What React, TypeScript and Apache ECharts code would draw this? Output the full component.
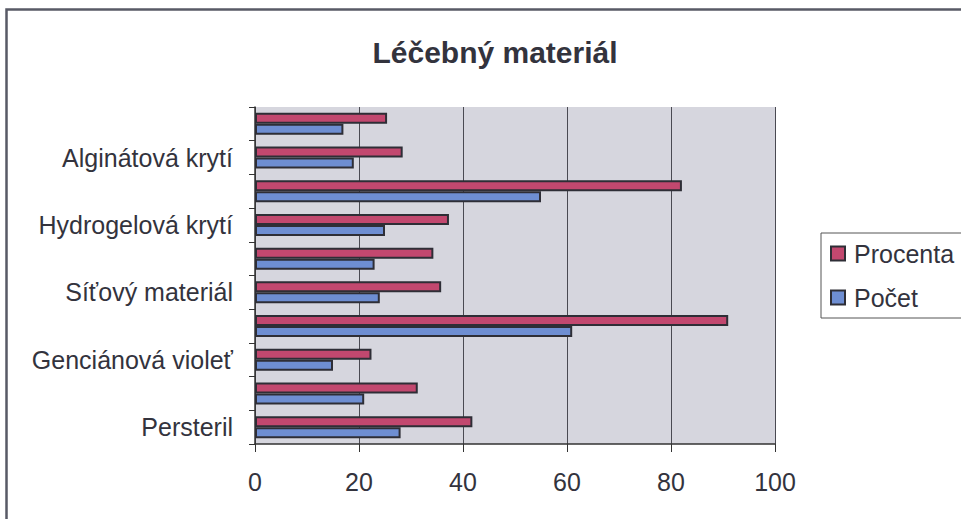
import React, { useEffect, useRef } from "react";
import * as echarts from "echarts";

const categories = [
  "Persteril",
  "",
  "Genciánová violeť",
  "",
  "Síťový materiál",
  "",
  "Hydrogelová krytí",
  "",
  "Alginátová krytí",
  "",
];
const procenta = [41.8, 31.3, 22.4, 91.0, 35.8, 34.3, 37.3, 82.1, 28.4, 25.4];
const pocet = [28, 21, 15, 61, 24, 23, 25, 55, 19, 17];
const xTicks = [0, 100, 20];

const FONT = "'Liberation Sans', Arial, sans-serif";
const TEXT = "#33333d";

export default function App() {
  const ref = useRef<HTMLDivElement>(null);
  useEffect(() => {
    if (!ref.current) return;
    const chart = echarts.init(ref.current, null, { renderer: "svg" });
    chart.setOption({
      animation: false,
      backgroundColor: "#ffffff",
      textStyle: { fontFamily: FONT },
      title: {
        text: "Léčebný materiál",
        left: 490,
        textAlign: "center",
        top: 32,
        textStyle: { fontSize: 30, fontWeight: "bold", color: TEXT, fontFamily: FONT },
      },
      graphic: [
        {
          type: "rect",
          shape: { x: 6.5, y: 9.5, width: 1100, height: 1100 },
          style: { fill: "none", stroke: "#585a66", lineWidth: 2.5 },
          silent: true,
        },
      ],
      legend: {
        left: 821,
        top: 233,
        orient: "vertical",
        data: ["Procenta", "Počet"],
        icon: "rect",
        itemWidth: 14,
        itemHeight: 14,
        itemGap: 19,
        padding: [8, 30, 8, 9],
        borderColor: "#555",
        borderWidth: 1,
        textStyle: { fontSize: 25, color: TEXT, fontFamily: FONT, padding: [0, 0, 0, 4] },
      },
      grid: {
        left: 255,
        right: 186,
        top: 107,
        bottom: 75,
        show: true,
        backgroundColor: "#d6d6de",
        borderWidth: 0,
      },
      xAxis: {
        type: "value",
        min: xTicks[0],
        max: xTicks[1],
        interval: xTicks[2],
        axisLine: { show: true, lineStyle: { color: "#333", width: 1.5 } },
        axisTick: { show: true, length: 8, lineStyle: { color: "#333" } },
        axisLabel: { fontSize: 25, color: TEXT, margin: 25, fontFamily: FONT },
        splitLine: { show: true, lineStyle: { color: "#4a4a52", width: 1 } },
      },
      yAxis: {
        type: "category",
        data: categories,
        axisLine: { show: true, lineStyle: { color: "#333", width: 1.5 } },
        axisTick: { show: true, length: 6, interval: 0, lineStyle: { color: "#333" } },
        axisLabel: { fontSize: 25, color: TEXT, margin: 22, interval: 0, fontFamily: FONT },
        splitLine: { show: false },
      },
      series: [
        {
          name: "Procenta",
          type: "bar",
          data: procenta,
          barWidth: 11,
          barGap: "0%",
          itemStyle: { color: "#c2486f", borderColor: "#2e2e36", borderWidth: 2 },
        },
        {
          name: "Počet",
          type: "bar",
          data: pocet,
          barWidth: 11,
          barGap: "0%",
          itemStyle: { color: "#6e8ed2", borderColor: "#2e2e36", borderWidth: 2 },
        },
      ],
    });
    return () => chart.dispose();
  }, []);
  return (
    <div
      ref={ref}
      style={{ position: "fixed", left: 0, top: 0, width: 961, height: 519 }}
    />
  );
}
